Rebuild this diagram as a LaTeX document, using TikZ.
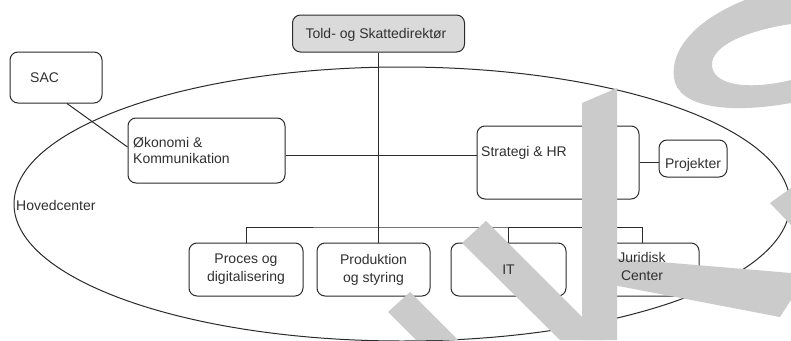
\documentclass[tikz,border=0pt]{standalone}
\usepackage{fontspec}
\setmainfont{Liberation Sans}
\definecolor{linec}{HTML}{2B2B2B}
\definecolor{textc}{HTML}{303030}
\definecolor{topfill}{HTML}{DADADA}
\definecolor{wmgray}{HTML}{CBCBCB}
\begin{document}
\begin{tikzpicture}[x=1pt,y=-1pt,
  box/.style={draw=linec, line width=1pt, rounded corners=8pt, inner sep=0pt},
  lbl/.style={font=\fontsize{14}{16}\selectfont, text=textc, inner sep=0pt, align=left},
  clbl/.style={font=\fontsize{14}{18}\selectfont, text=textc, inner sep=0pt, align=center},
  link/.style={draw=linec, line width=1pt},
  wmshape/.style={fill=wmgray, draw=none}]
\fill[white] (0,0) rectangle (791,340);
\useasboundingbox (0,0) rectangle (791,340);

% Hovedcenter boundary
\draw[link] (402,204) ellipse [x radius=388pt, y radius=137pt];

% boxes
\node[box, fill=topfill, minimum width=172pt, minimum height=37pt] (dir) at (378.5,33.5) {};
\node[box, minimum width=92pt, minimum height=51pt] (sac) at (56,77.5) {};
\node[box, minimum width=157pt, minimum height=65pt] (oek) at (206.5,150.5) {};
\node[box, minimum width=162pt, minimum height=73pt] (strat) at (558,162.5) {};
\node[box, minimum width=68pt, minimum height=37pt] (proj) at (693,158.5) {};
\node[box, minimum width=114pt, minimum height=53pt] (proc) at (246,269.5) {};
\node[box, minimum width=113pt, minimum height=53pt] (prod) at (373.5,269.5) {};
\node[box, minimum width=115pt, minimum height=53pt] (it) at (508.5,269.5) {};
\node[box, minimum width=114pt, minimum height=53pt] (jur) at (642,269.5) {};

% connectors
\coordinate (bus) at (378,227);
\coordinate (hl) at (378,155);
\draw[link] (dir.south) -- (dir.south |- prod.north);
\draw[link] (proc.north) |- (bus) -| (jur.north);
\draw[link] (it.north) -- (it.north |- bus);
\draw[link] (oek.east |- hl) -- (strat.west |- hl);
\draw[link] (strat.east) -- (strat.east -| proj.west);
\draw[link] ([xshift=11pt]sac.south) -- ([yshift=3.5pt]oek.west);

% overlay shapes
\fill[wmshape] (582,103) -- (617,88) -- (617,340) -- (582,340) -- cycle;
\fill[wmshape] (462,243) -- (486,221) -- (605,340) -- (560,340) -- cycle;
\fill[wmshape] (388,312) -- (410,292) -- (458,340) -- (416,340) -- cycle;
\fill[wmshape] (613,258) -- (791,273) -- (791,300) -- (780,317) -- (613,285) -- cycle;
\fill[wmshape] (770,203) -- (791,188) -- (791,225) -- cycle;
\fill[wmshape] (745,0) .. controls (695,20) and (670,50) .. (674,78)
  .. controls (678,108) and (730,114) .. (791,103) -- (791,80)
  .. controls (750,90) and (714,86) .. (712,66)
  .. controls (710,45) and (750,30) .. (791,24) -- (791,0) -- cycle;

% labels
\node[lbl, anchor=base west] (hc) at (16,210) {Hovedcenter};
\node[lbl, anchor=base] (dirtxt) at (376,38) {Told- og Skattedirektør};
\node[lbl, anchor=base west] (sactxt) at (30,82) {SAC};
\node[lbl, anchor=base west] (oektxt) at (133,163) {Økonomi \&\\Kommunikation};
\node[lbl, anchor=base west] (strattxt) at (481,156) {Strategi \& HR};
\node[lbl, anchor=base] (projtxt) at (693,168) {Projekter};
\node[clbl] (proctxt) at (proc) {Proces og\\digitalisering};
\node[clbl] (prodtxt) at (prod) {Produktion\\og styring};
\node[clbl] (ittxt) at (it) {IT};
\node[clbl] (jurtxt) at ([yshift=3pt]jur.center) {Juridisk\\Center};
\end{tikzpicture}
\end{document}
